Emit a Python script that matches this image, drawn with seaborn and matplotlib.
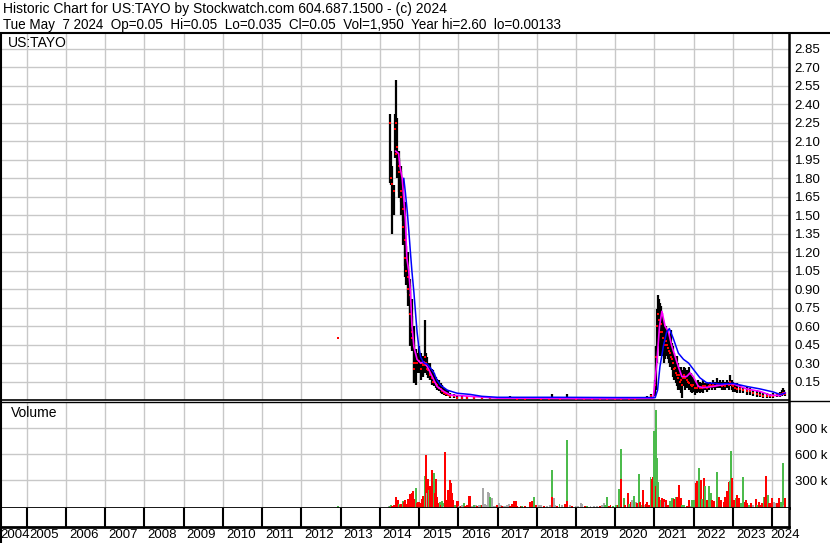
import matplotlib
matplotlib.use("Agg")
import matplotlib.pyplot as plt
import seaborn as sns
import pandas as pd
from matplotlib.lines import Line2D

# ---------------- data ----------------
header_1 = "Historic Chart for US:TAYO by Stockwatch.com 604.687.1500 - (c) 2024"
header_2 = "Tue May  7 2024  Op=0.05  Hi=0.05  Lo=0.035  Cl=0.05  Vol=1,950  Year hi=2.60  lo=0.00133"
symbol = "US:TAYO"

years = list(range(2004, 2025))
price_ticks = [0.15, 0.30, 0.45, 0.60, 0.75, 0.90, 1.05, 1.20, 1.35, 1.50, 1.65, 1.80,
               1.95, 2.10, 2.25, 2.40, 2.55, 2.70, 2.85]
volume_ticks = [300, 600, 900]          # thousands
volume_tick_labels = ["300 k", "600 k", "900 k"]

bar_year = [
    2014.25, 2014.29, 2014.32, 2014.36, 2014.38, 2014.41, 2014.42, 2014.45, 2014.48, 2014.50,
    2014.53, 2014.55, 2014.58, 2014.60, 2014.63, 2014.65, 2014.68, 2014.71, 2014.73, 2014.76,
    2014.78, 2014.81, 2014.83, 2014.86, 2014.88, 2014.91, 2014.94, 2014.96, 2014.99, 2015.01,
    2015.04, 2015.06, 2015.09, 2015.11, 2015.14, 2015.16, 2015.19, 2015.21, 2015.24, 2015.27,
    2015.29, 2015.33, 2015.36, 2015.39, 2015.43, 2015.46, 2015.50, 2015.55, 2015.59, 2015.63,
    2015.68, 2015.73, 2015.80, 2015.89, 2015.97, 2016.10, 2016.23,
    2016.40, 2016.60, 2016.80, 2017.00, 2017.20, 2017.33, 2017.50, 2017.70, 2017.90, 2018.10,
    2018.30, 2018.40, 2018.60, 2018.78, 2019.00, 2019.20, 2019.40, 2019.60, 2019.80, 2020.00,
    2020.16, 2020.35, 2020.50, 2020.65, 2020.80, 2020.90,
    2021.01, 2021.03, 2021.06, 2021.08, 2021.11, 2021.14, 2021.16, 2021.19, 2021.21, 2021.24,
    2021.26, 2021.29, 2021.31, 2021.34, 2021.37, 2021.39, 2021.42, 2021.44, 2021.47, 2021.49,
    2021.52, 2021.54, 2021.57, 2021.59, 2021.62, 2021.65, 2021.67, 2021.70, 2021.72, 2021.76,
    2021.79, 2021.82, 2021.86, 2021.89, 2021.93, 2021.96, 2021.99, 2022.04, 2022.08, 2022.12,
    2022.16, 2022.21, 2022.25, 2022.29, 2022.33, 2022.38, 2022.42, 2022.46, 2022.50, 2022.54,
    2022.59, 2022.63, 2022.67, 2022.72, 2022.76, 2022.80, 2022.84, 2022.89, 2022.93, 2022.97,
    2023.01, 2023.06, 2023.10, 2023.18, 2023.27, 2023.35, 2023.44, 2023.52, 2023.61, 2023.69,
    2023.78, 2023.86, 2023.95, 2024.03, 2024.12, 2024.19, 2024.24, 2024.27, 2024.31, 2024.34,
]
bar_high = [
    2.32, 2.02, 1.90, 1.745, 2.32, 2.29, 2.60, 2.29, 2.02, 1.96,
    1.90, 1.855, 1.80, 1.75, 1.61, 1.40, 1.25, 1.20, 1.09, 0.98,
    0.93, 0.82, 0.68, 0.60, 0.49, 0.41, 0.38, 0.36, 0.38, 0.44,
    0.38, 0.33, 0.33, 0.36, 0.38, 0.65, 0.38, 0.35, 0.30, 0.30,
    0.27, 0.25, 0.24, 0.22, 0.19, 0.17, 0.16, 0.14, 0.12, 0.10,
    0.09, 0.08, 0.06, 0.05, 0.04, 0.035, 0.03,
    0.025, 0.03, 0.025, 0.02, 0.02, 0.035, 0.02, 0.02, 0.025, 0.02,
    0.02, 0.045, 0.02, 0.045, 0.02, 0.018, 0.018, 0.018, 0.02, 0.02,
    0.025, 0.02, 0.02, 0.025, 0.03, 0.05,
    0.16, 0.44, 0.74, 0.85, 0.82, 0.79, 0.76, 0.71, 0.65, 0.60,
    0.57, 0.60, 0.57, 0.545, 0.52, 0.49, 0.57, 0.46, 0.436, 0.38,
    0.355, 0.33, 0.355, 0.30, 0.27, 0.245, 0.27, 0.218, 0.245, 0.27,
    0.26, 0.245, 0.23, 0.27, 0.218, 0.19, 0.18, 0.164, 0.15, 0.164,
    0.15, 0.136, 0.164, 0.136, 0.15, 0.136, 0.15, 0.136, 0.164, 0.15,
    0.178, 0.15, 0.164, 0.15, 0.164, 0.15, 0.164, 0.15, 0.205, 0.164,
    0.15, 0.136, 0.136, 0.123, 0.109, 0.109, 0.096, 0.082, 0.082, 0.068,
    0.06, 0.055, 0.05, 0.055, 0.055, 0.068, 0.082, 0.10, 0.082, 0.068,
]
bar_low = [
    1.76, 1.745, 1.35, 1.50, 1.96, 1.96, 2.02, 1.80, 1.64, 1.69,
    1.61, 1.50, 1.45, 1.255, 1.09, 1.00, 0.93, 0.87, 0.76, 0.70,
    0.44, 0.41, 0.40, 0.14, 0.14, 0.12, 0.22, 0.25, 0.25, 0.22,
    0.22, 0.16, 0.19, 0.20, 0.22, 0.25, 0.22, 0.20, 0.18, 0.16,
    0.16, 0.12, 0.12, 0.11, 0.10, 0.08, 0.07, 0.06, 0.05, 0.04,
    0.03, 0.03, 0.02, 0.02, 0.015, 0.01, 0.01,
    0.01, 0.01, 0.01, 0.01, 0.01, 0.01, 0.01, 0.008, 0.01, 0.01,
    0.01, 0.01, 0.008, 0.01, 0.008, 0.008, 0.006, 0.006, 0.006, 0.006,
    0.008, 0.006, 0.008, 0.008, 0.01, 0.01,
    0.03, 0.08, 0.30, 0.44, 0.44, 0.36, 0.545, 0.36, 0.44, 0.30,
    0.33, 0.38, 0.36, 0.33, 0.30, 0.27, 0.27, 0.245, 0.19, 0.16,
    0.19, 0.136, 0.11, 0.08, 0.11, 0.08, 0.055, 0.014, 0.11, 0.11,
    0.08, 0.096, 0.11, 0.08, 0.068, 0.055, 0.068, 0.04, 0.055, 0.068,
    0.055, 0.068, 0.055, 0.082, 0.068, 0.082, 0.096, 0.082, 0.096, 0.082,
    0.096, 0.096, 0.096, 0.082, 0.082, 0.082, 0.096, 0.082, 0.11, 0.082,
    0.068, 0.068, 0.055, 0.055, 0.055, 0.04, 0.04, 0.035, 0.027, 0.022,
    0.02, 0.014, 0.014, 0.014, 0.022, 0.027, 0.035, 0.04, 0.04, 0.035,
]
bar_close = [
    2.25, 1.80, 1.75, 1.70, 2.20, 2.00, 2.25, 2.05, 1.90, 1.85,
    1.70, 1.65, 1.55, 1.40, 1.30, 1.15, 1.05, 1.00, 0.90, 0.85,
    0.70, 0.55, 0.50, 0.30, 0.25, 0.30, 0.30, 0.30, 0.32, 0.32,
    0.30, 0.25, 0.28, 0.30, 0.28, 0.35, 0.30, 0.25, 0.24, 0.22,
    0.20, 0.18, 0.15, 0.15, 0.13, 0.12, 0.10, 0.09, 0.07, 0.06,
    0.05, 0.04, 0.03, 0.03, 0.02, 0.02, 0.02,
    0.015, 0.02, 0.015, 0.015, 0.015, 0.015, 0.012, 0.012, 0.015, 0.012,
    0.012, 0.02, 0.012, 0.02, 0.012, 0.012, 0.01, 0.01, 0.01, 0.01,
    0.012, 0.01, 0.012, 0.015, 0.015, 0.03,
    0.12, 0.35, 0.60, 0.70, 0.65, 0.55, 0.62, 0.55, 0.50, 0.45,
    0.45, 0.48, 0.45, 0.42, 0.40, 0.38, 0.35, 0.33, 0.30, 0.25,
    0.26, 0.22, 0.20, 0.18, 0.20, 0.15, 0.16, 0.12, 0.18, 0.20,
    0.18, 0.16, 0.15, 0.14, 0.12, 0.11, 0.12, 0.10, 0.10, 0.11,
    0.10, 0.10, 0.11, 0.11, 0.10, 0.11, 0.12, 0.11, 0.12, 0.11,
    0.13, 0.12, 0.12, 0.11, 0.12, 0.11, 0.13, 0.12, 0.15, 0.12,
    0.11, 0.10, 0.09, 0.09, 0.08, 0.07, 0.07, 0.06, 0.05, 0.04,
    0.035, 0.03, 0.03, 0.035, 0.04, 0.045, 0.05, 0.06, 0.05, 0.05,
]
stray_year = [2012.93]
stray_price = [0.50]

ma_short_year = [
    2014.40, 2014.48, 2014.51, 2014.57, 2014.65, 2014.69, 2014.74, 2014.78, 2014.82, 2014.87,
    2014.95, 2015.04, 2015.12, 2015.21, 2015.29, 2015.38, 2015.46, 2015.63, 2015.80, 2016.31,
    2017.00, 2018.00, 2019.00, 2020.00, 2020.97,
    2021.06, 2021.13, 2021.19, 2021.27, 2021.36, 2021.44, 2021.53, 2021.61, 2021.70, 2021.82,
    2021.91, 2021.99, 2022.12, 2022.25, 2022.50, 2022.84, 2023.01, 2023.35, 2023.69, 2023.95,
    2024.20, 2024.33,
]
ma_short = [
    2.02, 2.00, 1.90, 1.80, 1.47, 1.15, 1.04, 0.875, 0.60, 0.43,
    0.33, 0.30, 0.31, 0.27, 0.22, 0.16, 0.11, 0.07, 0.04, 0.03,
    0.015, 0.015, 0.012, 0.012, 0.015,
    0.30, 0.60, 0.72, 0.60, 0.55, 0.44, 0.35, 0.27, 0.19, 0.19,
    0.22, 0.19, 0.11, 0.10, 0.11, 0.13, 0.13, 0.09, 0.07, 0.04,
    0.035, 0.06,
]
ma_long_year = [
    2014.61, 2014.65, 2014.70, 2014.74, 2014.78, 2014.82, 2014.87, 2014.91, 2014.95, 2014.99,
    2015.04, 2015.12, 2015.21, 2015.29, 2015.38, 2015.46, 2015.55, 2015.72, 2015.97, 2016.31,
    2016.60, 2017.00, 2018.50, 2020.00, 2021.02,
    2021.08, 2021.14, 2021.23, 2021.31, 2021.38, 2021.48, 2021.61, 2021.74, 2021.87, 2021.99,
    2022.16, 2022.33, 2022.67, 2023.01, 2023.35, 2023.69, 2024.03, 2024.20, 2024.33,
]
ma_long = [
    1.80, 1.69, 1.53, 1.37, 1.20, 1.04, 0.87, 0.71, 0.55, 0.44,
    0.35, 0.30, 0.29, 0.26, 0.22, 0.16, 0.12, 0.08, 0.055, 0.045,
    0.03, 0.022, 0.022, 0.02, 0.02,
    0.08, 0.27, 0.44, 0.55, 0.58, 0.50, 0.38, 0.33, 0.30, 0.25,
    0.18, 0.14, 0.13, 0.135, 0.11, 0.09, 0.065, 0.045, 0.055,
]

vol_year = [
    2012.93,
    2014.23, 2014.25, 2014.29, 2014.32, 2014.36, 2014.39, 2014.42, 2014.46, 2014.48, 2014.51,
    2014.54, 2014.58, 2014.61, 2014.65, 2014.68, 2014.71, 2014.75, 2014.78, 2014.82, 2014.85,
    2014.88, 2014.92, 2014.95, 2014.98, 2015.00, 2015.04, 2015.08, 2015.11, 2015.14, 2015.17,
    2015.20, 2015.22, 2015.26, 2015.29, 2015.32, 2015.34, 2015.38, 2015.40, 2015.44, 2015.46,
    2015.50, 2015.53, 2015.56, 2015.59, 2015.62, 2015.64, 2015.67, 2015.70, 2015.73, 2015.76,
    2015.79, 2015.81, 2015.84, 2015.86, 2015.89, 2015.91, 2015.96, 2015.99, 2016.02, 2016.06,
    2016.10, 2016.14, 2016.18, 2016.23, 2016.27, 2016.31, 2016.35, 2016.40, 2016.44, 2016.48,
    2016.52, 2016.57, 2016.61, 2016.64, 2016.67, 2016.70, 2016.75, 2016.79, 2016.82, 2016.86,
    2016.91, 2016.95, 2016.99, 2017.03, 2017.08, 2017.12, 2017.16, 2017.20, 2017.25, 2017.29,
    2017.33, 2017.37, 2017.42, 2017.46, 2017.50,
    2017.59, 2017.63, 2017.71, 2017.82, 2017.88, 2017.94, 2017.99, 2018.05, 2018.10, 2018.18,
    2018.27, 2018.35, 2018.40, 2018.40, 2018.43, 2018.46, 2018.52, 2018.58, 2018.65, 2018.72,
    2018.78, 2018.78, 2018.84, 2018.90, 2018.99, 2019.05, 2019.12, 2019.16, 2019.22, 2019.29,
    2019.37, 2019.46, 2019.54, 2019.61, 2019.67, 2019.71, 2019.75, 2019.80, 2019.84, 2019.88,
    2019.95, 2020.01, 2020.07, 2020.09, 2020.14, 2020.16, 2020.16, 2020.22, 2020.26, 2020.32,
    2020.36, 2020.39, 2020.43, 2020.48, 2020.52, 2020.56, 2020.60, 2020.63, 2020.69, 2020.72,
    2020.75, 2020.78, 2020.82, 2020.86, 2020.90, 2020.94, 2020.97, 2021.00, 2021.03, 2021.05,
    2021.06, 2021.09, 2021.12, 2021.16, 2021.20, 2021.24, 2021.28, 2021.30, 2021.34, 2021.39,
    2021.44, 2021.48, 2021.51, 2021.55, 2021.58, 2021.62, 2021.67, 2021.71, 2021.75, 2021.82,
    2021.88, 2021.92, 2021.96, 2022.02, 2022.05, 2022.09, 2022.13, 2022.18, 2022.22, 2022.26,
    2022.30, 2022.35, 2022.39, 2022.43, 2022.47, 2022.52, 2022.59, 2022.64, 2022.70, 2022.77,
    2022.81, 2022.86, 2022.90, 2022.92, 2022.94, 2022.98, 2023.03, 2023.07, 2023.11, 2023.15,
    2023.20, 2023.26, 2023.30, 2023.33, 2023.37, 2023.41, 2023.45, 2023.52, 2023.58, 2023.62,
    2023.66, 2023.71, 2023.75, 2023.79, 2023.81, 2023.85, 2023.89, 2023.93, 2023.96, 2024.00,
    2024.05, 2024.09, 2024.13, 2024.17, 2024.23, 2024.28, 2024.31, 2024.34,
]
vol_k = [
    5,
    8, 5, 10, 6, 12, 20, 104, 69, 30, 19,
    25, 65, 46, 77, 27, 85, 77, 146, 154, 177,
    85, 212, 38, 54, 46, 38, 88, 115, 354, 596,
    154, 315, 192, 230, 165, 423, 385, 154, 315, 108,
    38, 50, 19, 58, 38, 8, 623, 77, 192, 192,
    308, 269, 154, 77, 19, 19, 65, 58, 3, 8,
    15, 38, 8, 20, 115, 115, 8, 15, 12, 8,
    20, 20, 15, 212, 27, 20, 162, 154, 108, 96,
    8, 3, 15, 38, 12, 8, 3, 5, 20, 30,
    3, 27, 58, 62, 8,
    8, 5, 8, 50, 62, 108, 20, 12, 12, 5,
    8, 10, 419, 112, 100, 15, 8, 30, 12, 23,
    765, 65, 12, 8, 5, 8, 35, 23, 8, 8,
    5, 5, 8, 5, 12, 35, 12, 104, 8, 12,
    8, 12, 12, 196, 20, 661, 315, 92, 15, 150,
    23, 54, 73, 119, 54, 35, 373, 50, 15, 192,
    20, 30, 54, 12, 335, 319, 335, 869, 1111, 235,
    554, 285, 112, 73, 100, 81, 54, 73, 15, 65,
    92, 92, 85, 112, 112, 246, 92, 15, 15, 8,
    73, 8, 73, 73, 265, 288, 446, 304, 88, 327,
    235, 73, 235, 150, 73, 62, 396, 112, 73, 54,
    112, 177, 285, 292, 638, 323, 73, 92, 131, 92,
    35, 335, 50, 73, 35, 20, 35, 15, 88, 20,
    54, 20, 42, 112, 112, 350, 131, 35, 35, 100,
    54, 42, 35, 100, 54, 504, 15, 100,
]
vol_dir = [
    "u",
    "n", "u", "u", "d", "d", "d", "d", "d", "u", "d",
    "d", "u", "d", "d", "d", "d", "d", "d", "d", "d",
    "d", "u", "d", "d", "d", "d", "d", "d", "u", "d",
    "n", "d", "u", "d", "n", "d", "u", "d", "d", "d",
    "d", "u", "d", "u", "u", "n", "d", "d", "d", "d",
    "d", "d", "d", "d", "d", "u", "d", "d", "n", "d",
    "n", "u", "d", "d", "d", "d", "n", "u", "n", "d",
    "n", "u", "d", "n", "n", "n", "n", "n", "u", "n",
    "n", "n", "d", "n", "n", "d", "n", "n", "n", "n",
    "d", "d", "d", "d", "d",
    "d", "u", "d", "d", "d", "u", "d", "n", "n", "d",
    "n", "n", "u", "d", "n", "n", "d", "u", "n", "d",
    "u", "d", "n", "d", "n", "n", "n", "n", "d", "u",
    "n", "n", "n", "d", "n", "n", "u", "u", "d", "d",
    "u", "u", "d", "u", "d", "u", "d", "u", "d", "d",
    "u", "d", "n", "u", "n", "d", "u", "d", "u", "d",
    "n", "d", "d", "d", "u", "d", "d", "u", "u", "d",
    "u", "u", "d", "u", "d", "d", "n", "d", "d", "u",
    "u", "u", "d", "u", "d", "d", "d", "u", "u", "d",
    "d", "n", "u", "u", "d", "d", "u", "d", "u", "d",
    "u", "d", "u", "u", "d", "d", "u", "d", "d", "d",
    "d", "d", "d", "u", "u", "d", "d", "u", "d", "d",
    "u", "u", "d", "d", "d", "u", "d", "n", "d", "u",
    "d", "d", "d", "u", "d", "d", "u", "d", "d", "d",
    "n", "n", "d", "d", "u", "u", "n", "d",
]

# ---------------- style ----------------
sns.set_style("white")
plt.rcParams['font.family'] = ['Liberation Sans', 'DejaVu Sans']

W, H = 830, 543
fig = plt.figure(figsize=(W / 100, H / 100), dpi=100)
fig.patch.set_facecolor("white")


def fx(px):
    return px / W


def fy(py):
    return 1 - py / H


XMIN, XMAX = 2004.37, 2024.43
GRID = "#C8C8C8"
RED = "#FF0000"
GREEN = "#4CBB4C"
GRAY = "#A8A8A8"
bounds = [y for y in years if y > 2004]

ax_p = fig.add_axes([fx(2), fy(400), fx(787), 366 / H])
ax_v = fig.add_axes([fx(2), fy(508), fx(787), 106 / H])
ax_t = fig.add_axes([fx(2), fy(527), fx(787), 19 / H])

for ax in (ax_p, ax_v, ax_t):
    ax.set_xlim(XMIN, XMAX)
    ax.set_xticks(bounds)
    ax.set_xticklabels([])
    ax.tick_params(axis="x", length=0)
    for s in ("left", "top"):
        ax.spines[s].set_visible(False)
    ax.spines["right"].set_color("black")
    ax.spines["right"].set_linewidth(1.8)
    ax.spines["bottom"].set_color("black")

# ---- price panel ----
ax_p.set_ylim(0, 2.97)
ax_p.set_yticks(price_ticks)
ax_p.set_yticklabels([f"{v:.2f}" for v in price_ticks])
ax_p.yaxis.tick_right()
ax_p.tick_params(axis="y", length=0, pad=4, labelsize=9.5, colors="black")
ax_p.grid(True, color=GRID, lw=1.0)
ax_p.set_axisbelow(True)
ax_p.spines["bottom"].set_linewidth(1.2)

ax_p.vlines(bar_year, bar_low, bar_high, color="black", lw=1.6, zorder=2)
close_df = pd.DataFrame({"year": bar_year + stray_year, "close": bar_close + stray_price})
sns.scatterplot(data=close_df, x="year", y="close", ax=ax_p, marker="s", s=4,
                color=RED, linewidth=0, zorder=3, legend=False)
sns.lineplot(x=ma_short_year, y=ma_short, ax=ax_p, color="#FF00FF", lw=1.2, zorder=4,
             estimator=None, sort=False)
sns.lineplot(x=ma_long_year, y=ma_long, ax=ax_p, color="#0000FF", lw=1.1, zorder=5,
             estimator=None, sort=False)
ax_p.set_xlabel("")
ax_p.set_ylabel("")
ax_p.text(fx(6) / fx(787), 1 - 2 / 366, symbol, transform=ax_p.transAxes,
          ha="left", va="top", fontsize=10, color="black")

# ---- volume panel ----
VLOW = -20
ax_v.set_ylim(VLOW, 1203)
ax_v.set_yticks(volume_ticks)
ax_v.set_yticklabels(volume_tick_labels)
ax_v.yaxis.tick_right()
ax_v.tick_params(axis="y", length=0, pad=4, labelsize=9.5, colors="black")
ax_v.grid(True, color=GRID, lw=1.0)
ax_v.set_axisbelow(True)
ax_v.spines["bottom"].set_linewidth(2.0)
cmap = {"u": GREEN, "d": RED, "n": GRAY}
order = sorted(range(len(vol_year)), key=lambda i: (vol_year[i], vol_dir[i] == "d"))
ax_v.bar([vol_year[i] for i in order], [vol_k[i] - VLOW for i in order], bottom=VLOW,
         width=0.05, color=[cmap[vol_dir[i]] for i in order], linewidth=0, zorder=2)
ax_v.text(fx(9) / fx(787), 1 - 4 / 106, "Volume", transform=ax_v.transAxes,
          ha="left", va="top", fontsize=10, color="black")

# ---- tick row ----
ax_t.set_ylim(0, 1)
ax_t.set_yticks([])
ax_t.spines["bottom"].set_linewidth(2.0)
ax_t.vlines(bounds, 0, 1, color="black", lw=1.5)

for y in years:
    if y == 2004:
        xpx = 0
    elif y == 2024:
        xpx = 2 + (y - XMIN) * 787 / (XMAX - XMIN) - 2
    else:
        xpx = 2 + (y - XMIN) * 787 / (XMAX - XMIN) + 3
    fig.text(fx(xpx), fy(535.5), str(y), ha="left", va="center", fontsize=9.5, color="black")

# ---- header and frame ----
fig.text(fx(3), fy(13.5), header_1, ha="left", va="baseline", fontsize=10, color="black")
fig.text(fx(3), fy(28.5), header_2, ha="left", va="baseline", fontsize=9.75, color="black")
fig.add_artist(Line2D([0, 1], [fy(33), fy(33)], color="black", lw=1.5))
fig.add_artist(Line2D([fx(1), fx(1)], [fy(33), 0], color="black", lw=1.5))
fig.add_artist(Line2D([fx(789), 1], [fy(400.5), fy(400.5)], color="black", lw=1.0))
fig.add_artist(Line2D([0, fx(789)], [fy(402), fy(402)], color="black", lw=1.0))

fig.savefig("out.png", dpi=100, facecolor="white")
